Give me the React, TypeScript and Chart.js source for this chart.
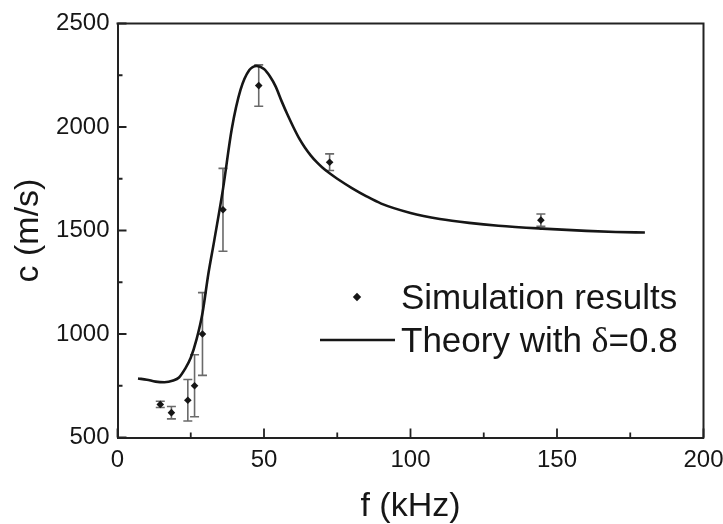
import React, { useEffect, useRef } from "react";
import { Chart, registerables } from "chart.js";

Chart.register(...registerables);

// ---- data ----
const xTickValues = [0, 50, 100, 150, 200];
const yTickValues = [500, 1000, 1500, 2000, 2500];

// Simulation results (f in kHz, c in m/s, symmetric error)
const simF = [14.6, 18.4, 24.0, 26.3, 29.0, 36.0, 48.2, 72.4, 144.5];
const simC = [660, 620, 680, 750, 1000, 1600, 2200, 1830, 1550];
const simErr = [15, 30, 100, 150, 200, 200, 100, 40, 30];

// Theory curve with delta = 0.8
const theoryF = [7, 10, 13, 16, 19, 21, 23, 25, 27, 29, 31, 33, 36, 39, 42, 45, 47.5, 50, 52, 54, 56, 58, 60, 62, 64, 66, 68, 70, 72.5, 75, 80, 85, 90, 100, 110, 120, 130, 145, 160, 170, 180];
const theoryC = [785, 779, 770, 767, 775, 790, 830, 885, 975, 1100, 1290, 1450, 1700, 1990, 2180, 2275, 2295, 2280, 2245, 2195, 2125, 2060, 2000, 1945, 1900, 1862, 1830, 1803, 1775, 1750, 1705, 1665, 1630, 1585, 1556, 1537, 1523, 1509, 1498, 1493, 1490];

const xTitle = "f (kHz)";
const yTitle = "c (m/s)";
const legendSim = "Simulation results";
const legendTheoryA = "Theory with ";
const legendTheoryDelta = "δ";
const legendTheoryB = "=0.8";

const SANS = "'Liberation Sans', Arial, Helvetica, sans-serif";
const SERIF = "'Liberation Serif', 'Times New Roman', serif";
const INK = "#161616";

const decorPlugin = {
  id: "decor",
  beforeDatasetsDraw(chart: any) {
    const ctx = chart.ctx;
    const ys = chart.scales.y;
    const meta = chart.getDatasetMeta(1);
    ctx.save();
    ctx.strokeStyle = "#6a6a6a";
    ctx.lineWidth = 1.6;
    meta.data.forEach((pt: any, i: number) => {
      const x = pt.x;
      const top = ys.getPixelForValue(simC[i] + simErr[i]);
      const bot = ys.getPixelForValue(simC[i] - simErr[i]);
      const cap = 4.5;
      ctx.beginPath();
      ctx.moveTo(x, top);
      ctx.lineTo(x, bot);
      ctx.moveTo(x - cap, top);
      ctx.lineTo(x + cap, top);
      ctx.moveTo(x - cap, bot);
      ctx.lineTo(x + cap, bot);
      ctx.stroke();
    });
    ctx.restore();
  },
  afterDraw(chart: any) {
    const ctx = chart.ctx;
    const { left, right, top, bottom } = chart.chartArea;
    const xs = chart.scales.x;
    const ys = chart.scales.y;
    ctx.save();
    ctx.strokeStyle = "#222";
    ctx.lineWidth = 2;
    // top and right frame
    ctx.beginPath();
    ctx.moveTo(left - 1, top);
    ctx.lineTo(right, top);
    ctx.lineTo(right, bottom + 1);
    ctx.stroke();
    // inward ticks
    ctx.lineWidth = 1.8;
    ctx.beginPath();
    for (let v = 0; v <= 200; v += 25) {
      const px = xs.getPixelForValue(v);
      const len = v % 50 === 0 ? 9 : 5;
      ctx.moveTo(px, bottom);
      ctx.lineTo(px, bottom - len);
    }
    for (let v = 500; v <= 2500; v += 250) {
      const py = ys.getPixelForValue(v);
      const len = v % 500 === 0 ? 9 : 5;
      ctx.moveTo(left, py);
      ctx.lineTo(left + len, py);
    }
    ctx.stroke();

    // legend
    const lx = 401;
    const row1 = 309;
    const row2 = 352;
    ctx.fillStyle = INK;
    // diamond marker
    const dx = 357, dy = 297, r = 4.2;
    ctx.beginPath();
    ctx.moveTo(dx, dy - r);
    ctx.lineTo(dx + r, dy);
    ctx.lineTo(dx, dy + r);
    ctx.lineTo(dx - r, dy);
    ctx.closePath();
    ctx.fill();
    // line sample
    ctx.strokeStyle = INK;
    ctx.lineWidth = 2.5;
    ctx.beginPath();
    ctx.moveTo(320, 340);
    ctx.lineTo(395, 340);
    ctx.stroke();
    ctx.textBaseline = "alphabetic";
    ctx.textAlign = "left";
    ctx.font = `35px ${SANS}`;
    ctx.fillText(legendSim, lx, row1);
    ctx.fillText(legendTheoryA, lx, row2);
    let w = ctx.measureText(legendTheoryA).width;
    ctx.font = `36px ${SERIF}`;
    ctx.fillText(legendTheoryDelta, lx + w, row2);
    w += ctx.measureText(legendTheoryDelta).width;
    ctx.font = `35px ${SANS}`;
    ctx.fillText(legendTheoryB, lx + w, row2);
    ctx.restore();
  },
};

export default function App() {
  const canvasRef = useRef<HTMLCanvasElement | null>(null);

  useEffect(() => {
    document.body.style.margin = "0";
    const canvas = canvasRef.current;
    if (!canvas) return;
    const chart = new Chart(canvas, {
      type: "scatter",
      data: {
        datasets: [
          {
            type: "line",
            label: "Theory with δ=0.8",
            data: theoryF.map((f, i) => ({ x: f, y: theoryC[i] })),
            borderColor: INK,
            borderWidth: 2.6,
            pointRadius: 0,
            fill: false,
            cubicInterpolationMode: "monotone",
          } as any,
          {
            type: "scatter",
            label: "Simulation results",
            data: simF.map((f, i) => ({ x: f, y: simC[i] })),
            pointStyle: "rectRot",
            pointRadius: 3.8,
            backgroundColor: INK,
            borderColor: INK,
            borderWidth: 0,
          },
        ],
      },
      options: {
        responsive: false,
        animation: false,
        layout: { padding: { top: 23.5, right: 19.5, left: 0, bottom: 0 } },
        plugins: { legend: { display: false }, tooltip: { enabled: false } },
        scales: {
          x: {
            type: "linear",
            min: 0,
            max: 200,
            afterBuildTicks: (scale: any) => {
              scale.ticks = xTickValues.map((v) => ({ value: v }));
            },
            afterFit: (scale: any) => {
              scale.height = 86.5;
              scale.paddingLeft = 0;
              scale.paddingRight = 0;
            },
            grid: { display: false, drawTicks: false },
            border: { display: true, color: "#222", width: 2 },
            ticks: {
              autoSkip: false,
              maxRotation: 0,
              padding: 8,
              color: INK,
              font: { family: SANS, size: 24 },
              callback: (v: any) => String(v),
            },
            title: {
              display: true,
              text: xTitle,
              color: INK,
              font: { family: SANS, size: 34, lineHeight: 1 },
              padding: { top: 0, bottom: 0 },
            },
          },
          y: {
            type: "linear",
            min: 500,
            max: 2500,
            afterBuildTicks: (scale: any) => {
              scale.ticks = yTickValues.map((v) => ({ value: v }));
            },
            afterFit: (scale: any) => {
              scale.width = 117.5;
            },
            grid: { display: false, drawTicks: false },
            border: { display: true, color: "#222", width: 2 },
            ticks: {
              autoSkip: false,
              padding: 8,
              color: INK,
              font: { family: SANS, size: 24 },
              callback: (v: any) => String(v),
            },
            title: {
              display: true,
              text: yTitle,
              color: INK,
              font: { family: SANS, size: 34, lineHeight: 1 },
              padding: { top: 12, bottom: 0 },
            },
          },
        },
      },
      plugins: [decorPlugin],
    });
    return () => chart.destroy();
  }, []);

  return (
    <div style={{ width: 723, height: 524, background: "#fff" }}>
      <canvas ref={canvasRef} width={723} height={524} />
    </div>
  );
}
